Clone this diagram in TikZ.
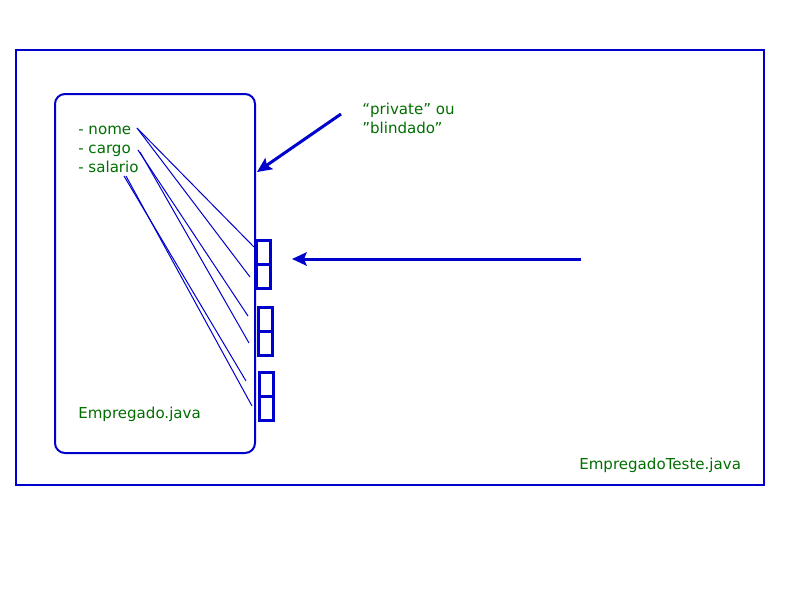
\documentclass[tikz,border=0pt]{standalone}
\usepackage{fontspec}
\setmainfont{DejaVu Sans}
\usetikzlibrary{arrows.meta,positioning}
\definecolor{javablue}{RGB}{0,0,204}
\definecolor{javagreen}{RGB}{0,110,0}
\tikzset{
  label/.style={text=javagreen,font=\fontsize{11.3}{13}\selectfont,inner sep=0pt,anchor=base west},
  attlink/.style={draw=javablue,line width=0.75pt},
  slot/.style={draw=javablue,line width=2.25pt,minimum width=10.5pt,minimum height=18pt,inner sep=0pt,outer sep=0pt},
  bigarrow/.style={draw=javablue,line width=2.25pt,-{Stealth[length=11pt,width=10pt,inset=2pt]}}
}

\begin{document}
\begin{tikzpicture}[x=0.75pt,y=-0.75pt]
		\useasboundingbox (0,0) rectangle (800,600);
		\draw[javablue,line width=1.5pt] (16,50) rectangle (764,485);
		\draw[javablue,line width=1.5pt,rounded corners=7.5pt] (55,94) rectangle (255,453);
		\node[label] (nome) at (78,134) {- nome};
		\node[label] (cargo) at (78,153) {- cargo};
		\node[label] (salario) at (78,172) {- salario};
		\node[label] (empregado) at (78,418) {Empregado.java};
		\node[label] (teste) at (579,469) {EmpregadoTeste.java};
		\node[label] (priv) at (362,114) {“private” ou};
		\node[label] (blind) at (362,133) {”blindado”};
		\node[slot] (s1) at (263.5,252.5) {};
		\node[slot] (s2) at (263.5,276.5) {};
		\node[slot] (s3) at (265,319.5) {};
		\node[slot] (s4) at (265,343.5) {};
		\node[slot] (s5) at (266.5,384.5) {};
		\node[slot] (s6) at (266.5,408.5) {};
		\coordinate (n0) at (137,128);
		\coordinate (c0) at (138,150);
		\coordinate (c1) at (140,152);
		\coordinate (a0) at (124,176);
		\coordinate (a1) at (126,176);
		\coordinate (n1) at (254,247);
		\coordinate (n2) at (250,277);
		\coordinate (c2) at (248,316);
		\coordinate (c3) at (249,343);
		\coordinate (a2) at (246,381);
		\coordinate (a3) at (252,406);
		\draw[attlink] (n0) -- (n1);
		\draw[attlink] (n0) -- (n2);
		\draw[attlink] (c0) -- (c2);
		\draw[attlink] (c1) -- (c3);
		\draw[attlink] (a0) -- (a2);
		\draw[attlink] (a1) -- (a3);
		\coordinate (privtail) at (341,114);
		\coordinate (privtip) at (257,172);
		\coordinate (calltail) at (581,259);
		\coordinate (calltip) at (292,259);
		\draw[bigarrow] (privtail) -- (privtip);
		\draw[bigarrow] (calltail) -- (calltip);
\end{tikzpicture}
\end{document}
